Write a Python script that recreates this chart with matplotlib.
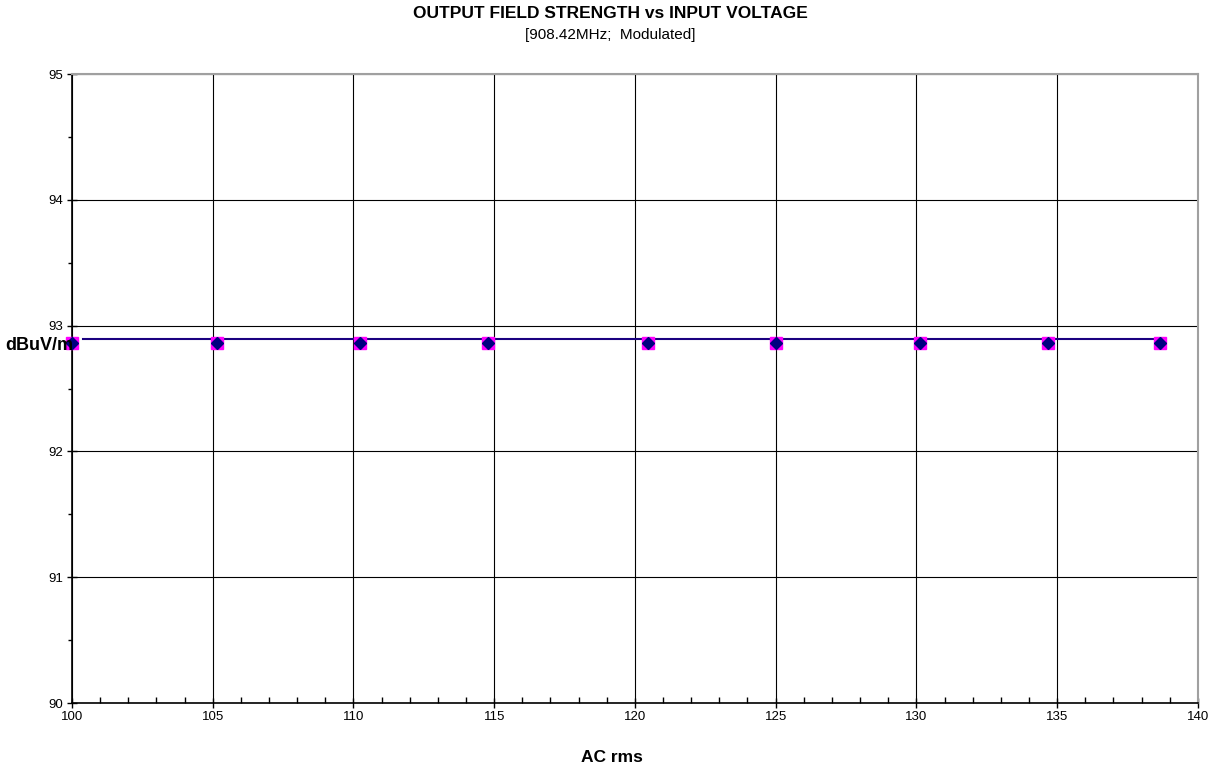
import matplotlib
matplotlib.use("Agg")
import matplotlib.pyplot as plt
from matplotlib.ticker import MultipleLocator

plt.rcParams['font.family'] = ['Liberation Sans', 'DejaVu Sans']

# measured points
volts = [100.0, 105.15, 110.23, 114.78, 120.46, 125.01, 130.12, 134.67, 138.65]
field = [92.86, 92.86, 92.86, 92.86, 92.86, 92.86, 92.86, 92.86, 92.86]
# reference line
line_x = [100.4, 138.4]
line_y = [92.89, 92.89]

fig = plt.figure(figsize=(12.21, 7.67), dpi=100)
ax = fig.add_axes([0.059, 0.0834, 0.922, 0.8201])

ax.plot(line_x, line_y, color='#1a0080', lw=1.5, zorder=3)
ax.plot(volts, field, ls='none', marker='s', ms=8, color='#ff00ff', zorder=4, clip_on=False)
ax.plot(volts, field, ls='none', marker='D', ms=6.5, color='#000080', zorder=5, clip_on=False)

ax.set_xlim(100, 140)
ax.set_ylim(90, 95)
ax.xaxis.set_major_locator(MultipleLocator(5))
ax.xaxis.set_minor_locator(MultipleLocator(1))
ax.yaxis.set_major_locator(MultipleLocator(1))
ax.yaxis.set_minor_locator(MultipleLocator(0.5))
ax.grid(True, which='major', color='black', lw=0.8)
ax.set_axisbelow(True)

ax.tick_params(which='major', direction='inout', length=7, width=1, labelsize=9.5)
ax.tick_params(axis='x', which='major', pad=2)
ax.tick_params(axis='y', which='major', pad=3)
ax.tick_params(which='minor', direction='in', length=4, width=1)
ax.tick_params(axis='y', which='minor', direction='out', length=3)
for s in ('top', 'right'):
    ax.spines[s].set_color('#a0a0a0')
    ax.spines[s].set_linewidth(1.5)
for s in ('left', 'bottom'):
    ax.spines[s].set_linewidth(1.2)

fig.text(0.5, 0.992, 'OUTPUT FIELD STRENGTH vs INPUT VOLTAGE', ha='center', va='top',
         fontsize=12.5, fontweight='bold')
fig.text(0.5, 0.964, '[908.42MHz;  Modulated]', ha='center', va='top', fontsize=11)
fig.text(0.004, 0.549, 'dBuV/m', ha='left', va='center', fontsize=13, fontweight='bold')
fig.text(0.501, 0.012, 'AC rms', ha='center', va='center', fontsize=12.5, fontweight='bold')

fig.savefig('out.png', dpi=100)
